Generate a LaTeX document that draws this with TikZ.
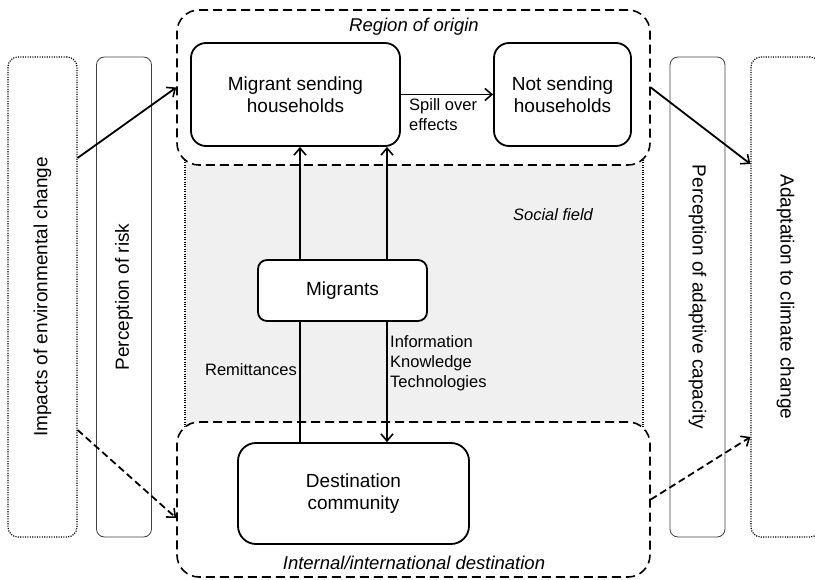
\documentclass[tikz,border=0pt]{standalone}
\usepackage{fontspec}
\setmainfont{Liberation Sans}
\usetikzlibrary{arrows.meta}
\begin{document}
\begin{tikzpicture}[x=1pt,y=-1pt,
  mainfont/.style={font=\fontsize{19}{22.5}\selectfont},
  smallfont/.style={font=\fontsize{16.5}{20}\selectfont},
  itfont/.style={font=\fontsize{18.5}{22}\selectfont\itshape},
  outerbox/.style={draw, line width=1.2pt, dash pattern=on 1.1pt off 1.3pt, rounded corners=10pt, inner sep=0pt, mainfont},
  percbox/.style={draw=black!75, line width=0.8pt, rounded corners=8pt, inner sep=0pt, mainfont},
  regionbox/.style={draw, line width=1.6pt, dash pattern=on 9pt off 5pt, rounded corners=22pt, fill=white, inner sep=0pt},
  hhbox/.style={draw, line width=1.8pt, rounded corners=15pt, fill=white, align=center, inner sep=0pt, mainfont},
  arr/.style={line width=1.8pt, -{Straight Barb[length=7pt,width=12pt,line width=1.6pt]}},
  dasharr/.style={arr, dash pattern=on 7pt off 4pt},
  biarr/.style={line width=1.8pt, {Straight Barb[length=7pt,width=12pt,line width=1.6pt]}-{Straight Barb[length=7pt,width=12pt,line width=1.6pt]}}
]
\useasboundingbox (0,0) rectangle (815,580);
\clip (0,0) rectangle (815,580);

% social field background
\fill[black!6] (185,160) rectangle (643,428);
\draw[line width=1.2pt, dash pattern=on 1.1pt off 1.3pt] (185,160) -- (185,428);
\draw[line width=1.2pt, dash pattern=on 1.1pt off 1.3pt] (643,160) -- (643,428);
\node[smallfont, font=\fontsize{16.5}{20}\selectfont\itshape] (sf) at (553,215) {Social field};

% side boxes
\node[outerbox, minimum width=69pt, minimum height=480pt] (imp) at (42.5,297) {\rotatebox{90}{Impacts of environmental change}};
\node[percbox, minimum width=55pt, minimum height=480pt] (risk) at (124,297) {\rotatebox{90}{Perception of risk}};
\node[percbox, minimum width=55pt, minimum height=480pt] (pac) at (697.5,297) {\rotatebox{-90}{Perception of adaptive capacity}};
\node[outerbox, minimum width=69pt, minimum height=480pt] (adapt) at (785.5,297) {\rotatebox{-90}{Adaptation to climate change}};

% regions
\node[regionbox, minimum width=473pt, minimum height=155pt] (origin) at (413.5,87.5) {};
\node[regionbox, minimum width=473pt, minimum height=155pt] (dest) at (413.5,499.5) {};
\node[itfont] (rol) at (414,27) {Region of origin};
\node[itfont] (dl) at (414,563) {Internal/international destination};

% households
\node[hhbox, minimum width=209pt, minimum height=103pt] (msh) at (295.5,94.5) {Migrant sending\\households};
\node[hhbox, minimum width=137pt, minimum height=103pt] (nsh) at (562.5,94.5) {Not sending\\households};
\node[hhbox, rounded corners=18pt, minimum width=231pt, minimum height=101pt] (dc) at (353.5,493.5) {Destination\\community};

% connectors
\draw[arr] (msh.east) -- (nsh.west);
\node[smallfont, anchor=north west, align=left, inner sep=0pt] (spill) at (409,98) {Spill over\\effects};

\draw[arr] ([xshift=-53.5pt]dc.north) -- ([xshift=-53.5pt]dc.north |- msh.south);
\draw[biarr] ([xshift=33.5pt]dc.north |- msh.south) -- ([xshift=33.5pt]dc.north);

\node[hhbox, rounded corners=9pt, minimum width=169pt, minimum height=61pt] (mig) at (342.5,290.5) {Migrants};

\node[smallfont, anchor=east, inner sep=0pt] (rem) at (297,370) {Remittances};
\node[smallfont, anchor=west, align=left, inner sep=0pt] (info) at (390,363) {Information\\Knowledge\\Technologies};

\draw[arr] ([yshift=139pt]imp.east) -- (origin.west);
\draw[dasharr] ([yshift=-133pt]imp.east) -- ([yshift=-18.5pt]dest.west);
\draw[arr] (origin.east) -- ([yshift=133pt]adapt.west);
\draw[dasharr] (dest.east) -- ([yshift=-140pt]adapt.west);
\end{tikzpicture}
\end{document}
